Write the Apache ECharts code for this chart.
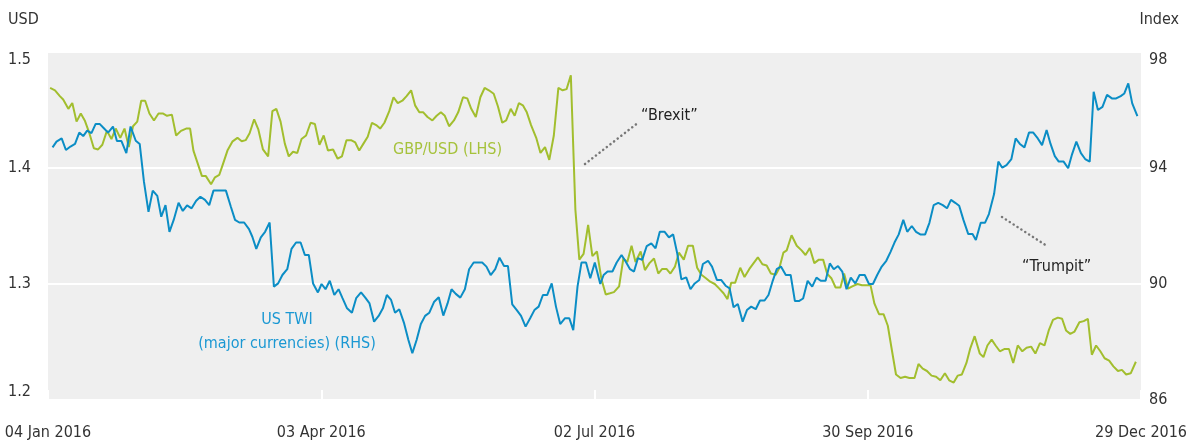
<!DOCTYPE html>
<html>
<head>
<meta charset="utf-8">
<script src="https://cdn.jsdelivr.net/npm/echarts@6.0.0/dist/echarts.min.js"></script>
<style>
  html, body { margin: 0; padding: 0; background: #fff; }
  #main { width: 1190px; height: 445px; }
</style>
</head>
<body>
<div id="main"></div>
<script>
// x positions are days counted from 04 Jan 2016
var tickLabels = ['04 Jan 2016', '03 Apr 2016', '02 Jul 2016', '30 Sep 2016', '29 Dec 2016'];

var gbpDay = [0.7,2.3,3.9,5.0,6.7,8.0,9.4,10.8,12.1,13.5,15.1,16.5,17.9,19.4,20.9,22.3,23.8,25.2,26.6,28.0,
  29.4,30.7,32.0,33.4,34.9,36.4,37.8,39.2,40.8,42.2,43.8,45.5,46.8,47.9,49.3,50.7,52.0,53.7,55.0,
  56.4,57.7,59.1,60.8,62.4,63.8,65.1,66.4,67.9,69.3,70.8,72.5,73.9,75.2,76.6,78.0,79.3,80.7,82.1,83.5,
  85.0,86.5,87.9,89.4,90.8,92.2,93.9,95.4,96.8,98.3,99.8,101.2,102.5,103.9,105.3,106.7,108.1,109.4,110.8,112.4,
  113.8,115.2,116.7,118.1,
  119.6,120.9,122.3,123.6,125.0,126.6,128.0,129.4,130.7,132.1,133.7,135.1,136.7,138.1,139.4,140.9,142.4,143.8,145.2,146.8,
  148.2,149.6,150.9,152.4,153.7,155.1,156.4,157.7,159.1,160.8,162.2,163.7,165.1,166.6,168.1,169.5,170.8,172.2,173.7,175.0,
  176.4,177.9,179.3,180.8,
  182.3,183.7,185.1,186.4,188.1,189.5,190.8,192.2,193.5,195.2,196.6,198.1,199.6,201.0,202.3,203.7,205.0,206.5,207.8,209.4,
  210.8,212.4,213.8,215.2,216.7,218.1,219.6,221.1,222.5,223.8,225.0,226.3,228.0,229.4,231.0,232.4,233.8,235.3,236.7,238.1,
  239.7,240.9,242.2,
  243.3,244.9,246.6,248.2,249.5,250.9,252.4,253.9,255.3,256.6,258.0,259.4,261.0,262.2,263.5,264.9,266.6,268.1,269.5,270.9,
  272.2,273.7,275.2,276.6,278.0,279.3,280.8,282.3,283.7,285.4,286.7,288.1,289.5,291.0,292.5,293.9,295.4,296.8,298.3,299.6,
  301.0,302.5,303.7,305.2,
  306.9,308.1,309.4,310.8,312.1,313.5,315.1,316.5,317.9,319.4,320.9,322.3,323.8,325.2,326.7,328.2,329.6,331.0,332.6,334.0,
  335.3,336.7,338.1,339.7,341.1,342.5,343.8,345.2,346.6,348.0,349.5,350.9,352.4,353.7,355.1,356.6,358.3];

var gbpUsd = [1.469,1.467,1.462,1.459,1.451,1.456,1.440,1.447,1.441,1.431,1.417,1.416,1.420,1.432,1.425,1.434,1.426,1.434,1.418,1.436,
  1.440,1.458,1.458,1.447,1.441,1.447,1.447,1.445,1.446,1.428,1.432,1.434,1.434,1.415,1.404,1.393,1.393,1.386,1.392,
  1.394,1.404,1.415,1.423,1.426,1.423,1.424,1.430,1.442,1.433,1.416,1.410,1.449,1.451,1.440,1.421,1.410,1.414,1.413,1.425,
  1.428,1.439,1.438,1.420,1.428,1.415,1.416,1.408,1.410,1.424,1.424,1.422,1.415,1.421,1.427,1.439,1.437,1.434,1.439,1.449,
  1.461,1.456,1.458,1.462,
  1.467,1.454,1.448,1.448,1.444,1.441,1.445,1.448,1.445,1.436,1.441,1.448,1.461,1.460,1.451,1.444,1.461,1.469,1.467,1.464,
  1.453,1.439,1.441,1.451,1.445,1.456,1.454,1.448,1.437,1.426,1.413,1.418,1.407,1.428,1.469,1.467,1.468,1.480,1.364,1.321,
  1.326,1.351,1.324,1.328,
  1.304,1.291,1.292,1.293,1.298,1.322,1.319,1.333,1.319,1.328,1.312,1.318,1.322,1.309,1.313,1.313,1.309,1.315,1.327,1.321,
  1.333,1.333,1.314,1.308,1.305,1.302,1.300,1.296,1.292,1.287,1.301,1.301,1.314,1.306,1.313,1.318,1.323,1.317,1.316,1.309,
  1.308,1.314,1.327,
  1.329,1.342,1.333,1.329,1.325,1.331,1.318,1.321,1.321,1.309,1.305,1.297,1.297,1.309,1.296,1.298,1.300,1.299,1.299,1.299,
  1.283,1.274,1.274,1.264,1.242,1.222,1.219,1.220,1.219,1.219,1.231,1.227,1.225,1.221,1.220,1.217,1.223,1.217,1.215,1.221,
  1.222,1.232,1.244,1.255,
  1.240,1.237,1.247,1.252,1.247,1.242,1.244,1.244,1.232,1.247,1.242,1.245,1.246,1.240,1.249,1.247,1.260,1.269,1.271,1.270,
  1.260,1.257,1.259,1.267,1.268,1.270,1.239,1.247,1.242,1.236,1.234,1.229,1.225,1.226,1.222,1.223,1.233];

var twiDay = [1.5,2.8,4.5,5.9,7.4,8.9,10.3,11.6,12.9,14.3,15.7,17.0,18.4,19.8,21.4,22.7,24.2,25.8,27.2,28.9,
  30.2,31.6,33.1,34.5,36.0,37.3,38.7,40.0,41.4,43.0,44.4,45.8,47.3,48.8,50.2,51.7,53.1,54.5,56.2,
  58.6,60.2,61.6,63.0,64.6,66.2,67.3,68.6,70.1,71.5,73.0,74.4,75.8,77.2,78.8,80.2,81.7,83.2,84.6,85.9,
  87.3,88.9,90.1,91.4,92.8,94.3,95.7,97.0,98.5,100.1,101.5,103.1,104.5,105.9,107.4,108.9,110.3,111.6,113.0,114.3,
  115.7,117.3,118.7,
  120.0,121.4,122.8,124.2,125.6,127.2,128.7,130.2,131.6,132.9,134.3,135.8,137.3,138.7,140.2,141.6,143.0,144.4,145.8,147.3,
  148.7,150.2,151.5,152.9,154.4,155.8,157.3,158.8,160.2,161.6,163.0,164.4,165.9,167.3,168.7,170.3,171.7,173.0,174.4,175.7,
  177.2,178.6,180.1,
  181.9,183.0,184.3,185.9,187.3,188.9,190.3,191.7,193.0,194.3,195.7,197.2,198.7,200.1,201.5,203.1,204.5,205.9,207.2,208.6,
  210.2,211.6,213.0,214.5,215.7,217.4,218.7,220.3,221.7,223.3,224.5,225.8,227.2,228.8,230.2,231.6,233.1,234.5,236.0,237.3,
  238.7,240.0,241.4,243.0,
  244.6,246.0,247.3,248.7,250.2,251.7,253.1,254.5,256.1,257.5,258.8,260.2,261.6,263.0,264.4,265.9,267.3,269.0,270.4,271.7,
  273.1,274.6,276.1,277.5,278.8,280.2,281.7,283.0,284.5,285.9,287.3,288.9,290.3,291.7,293.2,294.7,296.1,297.4,298.8,300.1,
  301.5,303.1,304.5,
  305.6,307.2,308.6,309.9,311.6,313.0,314.3,315.7,317.3,318.7,320.1,321.6,323.1,324.5,326.0,327.4,328.9,330.2,331.6,332.9,
  334.5,336.0,337.3,338.7,340.2,341.6,343.1,344.4,345.8,347.3,348.8,350.4,351.8,353.3,354.5,355.8,357.1,358.8];

var twiIndex = [94.71,94.91,95.02,94.62,94.74,94.83,95.22,95.10,95.29,95.20,95.52,95.52,95.37,95.22,95.43,94.93,94.93,94.51,95.43,94.94,
  94.83,93.53,92.49,93.22,93.04,92.32,92.72,91.80,92.21,92.80,92.52,92.71,92.61,92.87,93.01,92.90,92.72,93.22,93.22,
  93.22,92.67,92.21,92.12,92.12,91.89,91.63,91.21,91.61,91.80,92.12,89.91,90.02,90.31,90.51,91.21,91.43,91.43,91.00,91.00,
  90.02,89.71,90.00,89.82,90.11,89.62,89.82,89.51,89.16,89.01,89.51,89.71,89.53,89.33,88.70,88.90,89.16,89.62,89.45,89.01,
  89.13,88.64,88.07,
  87.61,88.07,88.62,88.90,89.01,89.39,89.54,88.91,89.33,89.82,89.66,89.53,89.82,90.51,90.74,90.74,90.74,90.60,90.31,90.51,
  90.91,90.62,90.62,89.30,89.10,88.90,88.53,88.82,89.10,89.22,89.62,89.62,90.02,89.22,88.62,88.82,88.82,88.41,89.91,90.74,
  90.74,90.20,90.74,
  90.00,90.31,90.43,90.43,90.74,91.00,90.77,90.51,90.43,90.89,90.83,91.31,91.40,91.23,91.80,91.80,91.61,91.71,91.08,90.16,
  90.23,89.82,90.02,90.14,90.69,90.80,90.60,90.14,90.14,89.93,89.85,89.20,89.31,88.70,89.10,89.22,89.13,89.43,89.43,89.62,
  90.11,90.51,90.60,90.31,
  90.31,89.41,89.41,89.50,90.11,89.91,90.22,90.11,90.11,90.71,90.51,90.62,90.43,89.82,90.22,90.02,90.31,90.31,90.00,90.00,
  90.31,90.60,90.80,91.11,91.43,91.71,92.21,91.80,92.00,91.80,91.71,91.71,92.11,92.72,92.80,92.72,92.61,92.90,92.80,92.70,
  92.21,91.72,91.72,
  91.52,92.11,92.11,92.41,93.10,94.22,94.01,94.10,94.31,95.02,94.83,94.71,95.22,95.22,95.02,94.79,95.31,94.83,94.41,94.22,
  94.22,93.99,94.48,94.91,94.51,94.31,94.22,96.63,96.00,96.11,96.52,96.40,96.40,96.48,96.57,96.92,96.23,95.79];

var font = "'DejaVu Sans Condensed', 'Liberation Sans Narrow', sans-serif";
var fs = 16;
var green = '#a2be2e';
var blue = '#0b8dc5';

function pairs(xs, ys) {
  var out = [];
  for (var i = 0; i < xs.length; i++) out.push([xs[i], ys[i]]);
  return out;
}

var chart = echarts.init(document.getElementById('main'));

var option = {
  animation: false,
  textStyle: { fontFamily: font },
  grid: {
    left: 48, right: 44, top: 52, bottom: 45,
    show: true, backgroundColor: '#efefef', borderWidth: 0
  },
  xAxis: {
    type: 'value', min: 0, max: 360, interval: 90,
    axisLine: { show: false },
    axisTick: { show: true, inside: true, length: 10, lineStyle: { color: '#fff', width: 2 } },
    splitLine: { show: false },
    axisLabel: {
      margin: 25, fontSize: fs, color: '#333', fontFamily: font,
      formatter: function (v) { return tickLabels[Math.round(v / 90)]; }
    }
  },
  yAxis: [{
    type: 'value', min: 1.2, max: 1.5, interval: 0.1,
    axisLine: { show: false }, axisTick: { show: false },
    splitLine: { show: true, lineStyle: { color: '#fff', width: 2 } },
    axisLabel: {
      margin: 17, fontSize: fs, color: '#333', fontFamily: font,
      verticalAlignMinLabel: 'bottom', verticalAlignMaxLabel: 'top',
      formatter: function (v) { return v.toFixed(1); }
    }
  }, {
    type: 'value', min: 86, max: 98, interval: 4, position: 'right',
    axisLine: { show: false }, axisTick: { show: false },
    splitLine: { show: false },
    axisLabel: {
      margin: 8, fontSize: fs, color: '#333', fontFamily: font,
      verticalAlignMaxLabel: 'top'
    }
  }],
  series: [{
    name: 'GBP/USD (LHS)', type: 'line', yAxisIndex: 0,
    showSymbol: false, symbol: 'none',
    lineStyle: { color: green, width: 2 },
    data: pairs(gbpDay, gbpUsd)
  }, {
    name: 'US TWI (major currencies) (RHS)', type: 'line', yAxisIndex: 1,
    showSymbol: false, symbol: 'none',
    lineStyle: { color: blue, width: 2 },
    data: pairs(twiDay, twiIndex)
  }],
  graphic: [
    { type: 'text', x: 8, y: 20, style: { text: 'USD', font: fs + 'px ' + font, fill: '#333', textVerticalAlign: 'middle' } },
    { type: 'text', x: 1179, y: 20, style: { text: 'Index', font: fs + 'px ' + font, fill: '#333', textAlign: 'right', textVerticalAlign: 'middle' } },
    { type: 'text', x: 393, y: 150, style: { text: 'GBP/USD (LHS)', font: fs + 'px ' + font, fill: '#a6c23c', textVerticalAlign: 'middle' } },
    { type: 'text', x: 287, y: 320, style: { text: 'US TWI', font: fs + 'px ' + font, fill: '#1b98d3', textAlign: 'center', textVerticalAlign: 'middle' } },
    { type: 'text', x: 287, y: 344, style: { text: '(major currencies) (RHS)', font: fs + 'px ' + font, fill: '#1b98d3', textAlign: 'center', textVerticalAlign: 'middle' } },
    { type: 'text', x: 641, y: 116, style: { text: '\u201cBrexit\u201d', font: fs + 'px ' + font, fill: '#222', textVerticalAlign: 'middle' } },
    { type: 'text', x: 1022, y: 267, style: { text: '\u201cTrumpit\u201d', font: fs + 'px ' + font, fill: '#222', textVerticalAlign: 'middle' } },
    { type: 'line', shape: { x1: 585, y1: 164, x2: 639, y2: 122 },
      style: { stroke: '#777', lineWidth: 2.5, lineDash: [0.1, 4.5], lineCap: 'round' } },
    { type: 'line', shape: { x1: 1002, y1: 217, x2: 1047, y2: 246 },
      style: { stroke: '#777', lineWidth: 2.5, lineDash: [0.1, 4.5], lineCap: 'round' } }
  ]
};

chart.setOption(option);
</script>
</body>
</html>
